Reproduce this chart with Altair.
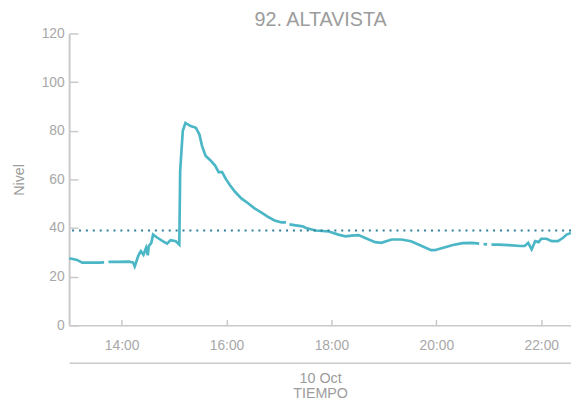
import altair as alt
import pandas as pd

TITLE = "92. ALTAVISTA"
DAY = "2019-10-10"

TIMES = ["13:00", "13:09", "13:15", "13:23", "13:34", "13:40", "13:43", "13:45", "13:56", "14:08",
         "14:13", "14:15", "14:19", "14:21", "14:22", "14:25", "14:28", "14:30", "14:31", "14:34",
         "14:36", "14:41", "14:47", "14:52", "14:56", "15:02", "15:06", "15:07", "15:10", "15:13",
         "15:19", "15:25", "15:29", "15:32", "15:36", "15:42", "15:47", "15:51", "15:55", "15:59",
         "16:04", "16:10", "16:17", "16:25", "16:32", "16:40", "16:47", "16:55", "17:03", "17:08",
         "17:10", "17:12", "17:19", "17:27", "17:31", "17:42", "17:57", "18:08", "18:16", "18:23",
         "18:31", "18:38", "18:50", "18:57", "19:09", "19:20", "19:31", "19:42", "19:54", "19:58",
         "20:08", "20:19", "20:30", "20:41", "20:49", "20:51", "20:54", "20:58", "21:00", "21:03",
         "21:11", "21:23", "21:36", "21:41", "21:45", "21:49", "21:53", "21:57", "22:00", "22:06",
         "22:12", "22:19", "22:25", "22:29", "22:34"]
NIVEL = [27.6, 26.9, 25.8, 25.8, 25.8, 25.9, None, 26.1, 26.1, 26.2,
         25.9, 24.2, 28.5, 30.0, 30.5, 29.0, 31.9, 28.8, 32.5, 33.9,
         37.3, 36.0, 34.6, 33.6, 35.0, 34.6, 33.2, 63.6, 80.0, 83.2,
         81.9, 81.2, 78.5, 73.8, 69.7, 67.7, 65.7, 63.0, 63.0, 60.3,
         57.6, 54.8, 52.2, 50.1, 48.1, 46.3, 44.7, 43.1, 42.3, 42.3,
         None, 41.5, 41.1, 40.7, 40.0, 39.0, 38.6, 37.3, 36.6, 36.9,
         37.1, 36.0, 34.2, 33.9, 35.3, 35.3, 34.6, 32.8, 30.9, 30.9,
         31.9, 33.0, 33.8, 33.9, 33.6, None, 33.4, 33.3, None, 33.2,
         33.2, 33.0, 32.6, 32.6, 33.9, 31.2, 34.6, 34.2, 35.6, 35.6,
         34.6, 34.6, 36.0, 37.3, 38.0]
UMBRAL = [39]
TICK_HOURS = [14, 16, 18, 20, 22]
Y_TICKS = [0, 20, 40, 60, 80, 100, 120]
X_START = (13, 0)
X_END = (22, 34)

df = pd.DataFrame({"t": [f"{DAY}T{h}:00" for h in TIMES], "v": NIVEL})
thr = pd.DataFrame({"v": UMBRAL})


def dt(h, m=0):
    return alt.DateTime(year=2019, month=10, date=10, hours=h, minutes=m)


xscale = alt.Scale(domain=[dt(*X_START), dt(*X_END)])
yscale = alt.Scale(domain=[0, 120], nice=False)
xticks = [dt(h) for h in TICK_HOURS]

AX = "#c9c9c9"
LBL = "#a8a8a8"
TTL = "#9c9c9c"
FONT = "Liberation Sans"

line = alt.Chart(df).mark_line(color="#4bb7c6", strokeWidth=2.7, clip=True).encode(
    x=alt.X("t:T", scale=xscale, axis=alt.Axis(
        orient="bottom", format="%H:%M", values=xticks, ticks=False, tickSize=0,
        domain=True, domainColor=AX, domainWidth=1.5, labelPadding=14,
        labelFontSize=14, labelColor=LBL, labelFont=FONT, title=None, grid=False)),
    y=alt.Y("v:Q", scale=yscale, axis=alt.Axis(
        orient="left", values=Y_TICKS, ticks=False, tickSize=0, domain=True,
        domainColor=AX, domainWidth=2, labelPadding=5, labelFontSize=14,
        labelColor=LBL, labelFont=FONT, grid=False, title="Nivel",
        titleX=-43, titleFontSize=14.5, titleFontWeight="normal",
        titleColor=TTL, titleFont=FONT)),
)

ticks_in = alt.Chart(df).mark_line(strokeOpacity=0).encode(
    x=alt.X("t:T", scale=xscale, axis=alt.Axis(
        orient="bottom", offset=-6, values=xticks, ticks=True, tickSize=6,
        tickColor=AX, tickWidth=1.5, labels=False, domain=False, title=None, grid=False)),
    y=alt.Y("v:Q", scale=yscale, axis=alt.Axis(
        orient="left", offset=-9, values=Y_TICKS, ticks=True, tickSize=9,
        tickColor=AX, tickWidth=1.5, labels=False, domain=False, title=None, grid=False)),
)

date_axis = alt.Chart(df).mark_line(strokeOpacity=0).encode(
    x=alt.X("t:T", scale=xscale, axis=alt.Axis(
        orient="bottom", offset=38, ticks=False, tickSize=0, labels=False,
        domain=True, domainColor=AX, domainWidth=1.5, grid=False,
        title=["10 Oct", "TIEMPO"], titlePadding=9, titleLineHeight=15,
        titleFontSize=14.5, titleFontWeight="normal", titleColor=TTL, titleFont=FONT)),
    y=alt.Y("v:Q", scale=yscale, axis=None),
)

title_axis = alt.Chart(df).mark_line(strokeOpacity=0).encode(
    x=alt.X("t:T", scale=xscale, axis=alt.Axis(
        orient="top", ticks=False, tickSize=0, labels=False, domain=False, grid=False,
        title=TITLE, titleY=-8, titleBaseline="alphabetic", titleFontSize=20,
        titleFontWeight="normal", titleColor=TTL, titleFont=FONT)),
    y=alt.Y("v:Q", scale=yscale, axis=None),
)

rule = alt.Chart(thr).mark_rule(color="#2f7f98", strokeDash=[2, 5], strokeWidth=2).encode(
    y=alt.Y("v:Q", scale=yscale, axis=None)
)

chart = alt.layer(line, ticks_in, date_axis, title_axis, rule).resolve_axis(
    x="independent", y="independent"
).properties(
    width=509, height=296,
    autosize=alt.AutoSizeParams(type="none"),
    padding={"left": 62, "top": 23, "right": 0, "bottom": 80},
).configure_view(stroke=None)

chart.save("out.html", embed_options={"renderer": "svg", "actions": False})
